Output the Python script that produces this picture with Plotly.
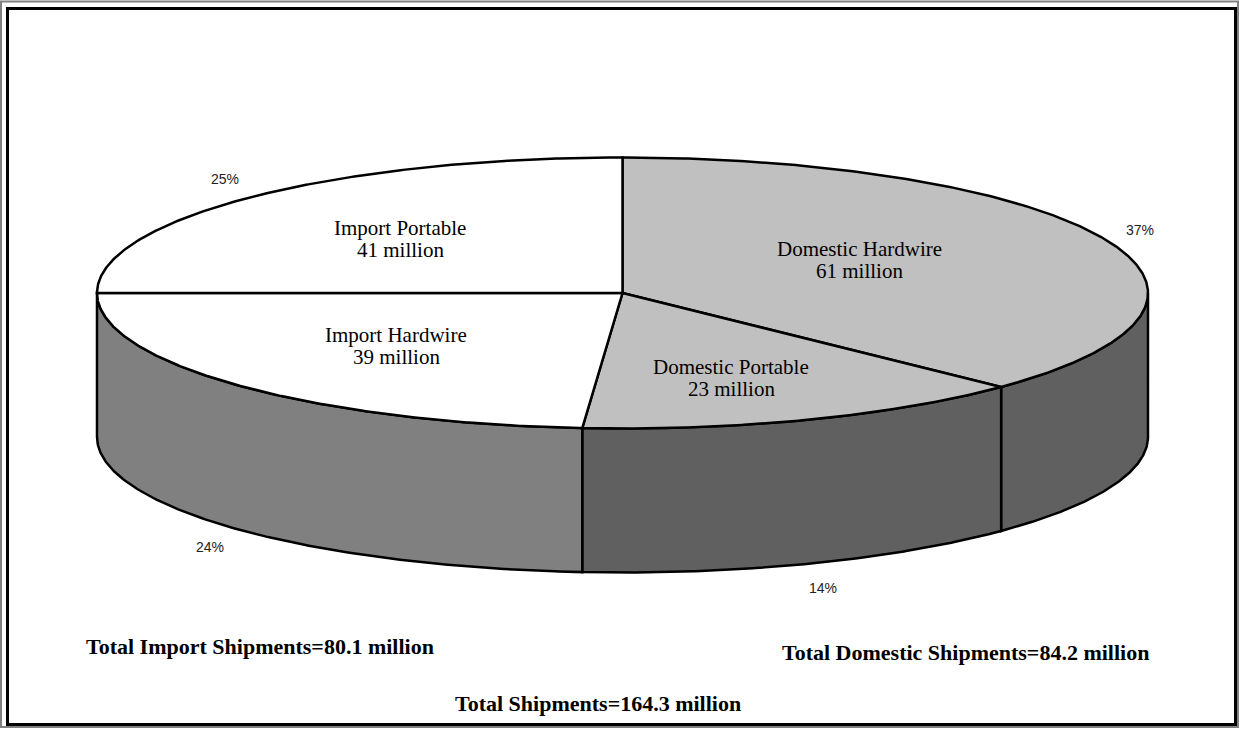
import numpy as np
import plotly.graph_objects as go

# ---------------- data ----------------
categories = ["Domestic Hardwire", "Domestic Portable", "Import Hardwire", "Import Portable"]
values = [61, 23, 39, 41]          # million units
import_total = 80.1
domestic_total = 84.2
grand_total = 164.3

# ---------------- styles / geometry ----------------
top_colors = ["#C0C0C0", "#C0C0C0", "#FFFFFF", "#FFFFFF"]
side_colors = ["#606060", "#606060", "#808080", "#808080"]
CX, CY = 622.5, 293.0      # centre of the top ellipse (px)
RX, RY = 525.5, 135.5      # ellipse radii (px)
DEPTH = 144.0              # thickness of the pie (px)
W, H = 1242, 730
EDGE_W = 2.5

# label anchor positions (px) for the in-slice labels, two lines each
label_pos = [(859, 249), (731, 367), (396, 335), (400, 228)]
LINE_GAP = 22

total = sum(values)
fracs = [v / total for v in values]
bounds = np.concatenate([[0], np.cumsum(fracs)]) * 360.0


def ell(theta_deg, dy=0.0):
    t = np.radians(theta_deg)
    return CX + RX * np.sin(t), CY - RY * np.cos(t) + dy


fig = go.Figure()

# ---- side walls (only the visible front half: 90..270 deg) ----
for i in range(len(values)):
    a, b = max(bounds[i], 90.0), min(bounds[i + 1], 270.0)
    if b <= a:
        continue
    th = np.linspace(a, b, 200)
    xt, yt = ell(th)
    xb, yb = ell(th[::-1], DEPTH)
    xs = np.concatenate([xt, xb, xt[:1]])
    ys = np.concatenate([yt, yb, yt[:1]])
    fig.add_trace(go.Scatter(x=xs, y=ys, mode="lines", fill="toself",
                             fillcolor=side_colors[i],
                             line=dict(color="black", width=EDGE_W),
                             hoverinfo="skip", showlegend=False))

# ---- top faces ----
for i in range(len(values)):
    th = np.linspace(bounds[i], bounds[i + 1], 300)
    xt, yt = ell(th)
    xs = np.concatenate([[CX], xt, [CX]])
    ys = np.concatenate([[CY], yt, [CY]])
    fig.add_trace(go.Scatter(x=xs, y=ys, mode="lines", fill="toself",
                             fillcolor=top_colors[i],
                             line=dict(color="black", width=EDGE_W),
                             hoverinfo="skip", showlegend=False))

annotations = []
serif = "Liberation Serif, Times New Roman, serif"
sans = "Liberation Sans, Arial, sans-serif"

# ---- in-slice labels ----
for i, cat in enumerate(categories):
    lx, ly = label_pos[i]
    for j, txt in enumerate([cat, f"{values[i]} million"]):
        annotations.append(dict(x=lx, y=ly + j * LINE_GAP, xref="x", yref="y",
                                text=txt, showarrow=False,
                                font=dict(family=serif, size=21, color="black"),
                                xanchor="center", yanchor="middle"))

# ---- percentage labels (outside) ----
for i in range(len(values)):
    mid = (bounds[i] + bounds[i + 1]) / 2.0
    t = np.radians(mid)
    px = CX + RX * np.sin(t) * 1.07
    py = CY - RY * np.cos(t) * 1.19 + (DEPTH if np.cos(t) < 0 else 0)
    annotations.append(dict(x=px, y=py, xref="x", yref="y",
                            text=f"{round(fracs[i] * 100)}%", showarrow=False,
                            font=dict(family=sans, size=14, color="#222222"),
                            xanchor="center", yanchor="middle"))

# ---- totals ----
bold_font = dict(family=serif, size=22, color="black")
annotations.append(dict(x=260, y=646, xref="x", yref="y",
                        text=f"<b>Total Import Shipments={import_total} million</b>",
                        showarrow=False, font=bold_font,
                        xanchor="center", yanchor="middle"))
annotations.append(dict(x=965, y=652, xref="x", yref="y",
                        text=f"<b>Total Domestic Shipments={domestic_total} million</b>",
                        showarrow=False, font=bold_font,
                        xanchor="center", yanchor="middle"))
annotations.append(dict(x=598, y=703, xref="x", yref="y",
                        text=f"<b>Total Shipments={grand_total} million</b>",
                        showarrow=False, font=bold_font,
                        xanchor="center", yanchor="middle"))

shapes = [
    dict(type="rect", xref="x", yref="y", x0=1, y0=1.5, x1=1238, y1=727,
         line=dict(color="#808080", width=2)),
    dict(type="rect", xref="x", yref="y", x0=7.5, y0=8.5, x1=1235.5, y1=724.5,
         line=dict(color="black", width=3)),
]

fig.update_layout(
    width=W, height=H,
    margin=dict(l=0, r=0, t=0, b=0),
    paper_bgcolor="white", plot_bgcolor="white",
    xaxis=dict(range=[0, W], visible=False, fixedrange=True),
    yaxis=dict(range=[H, 0], visible=False, fixedrange=True),
    annotations=annotations, shapes=shapes, showlegend=False,
)

fig.write_html("out.html", config={"displayModeBar": False},
               post_script="document.body.style.margin='0';document.body.style.overflow='hidden';")
